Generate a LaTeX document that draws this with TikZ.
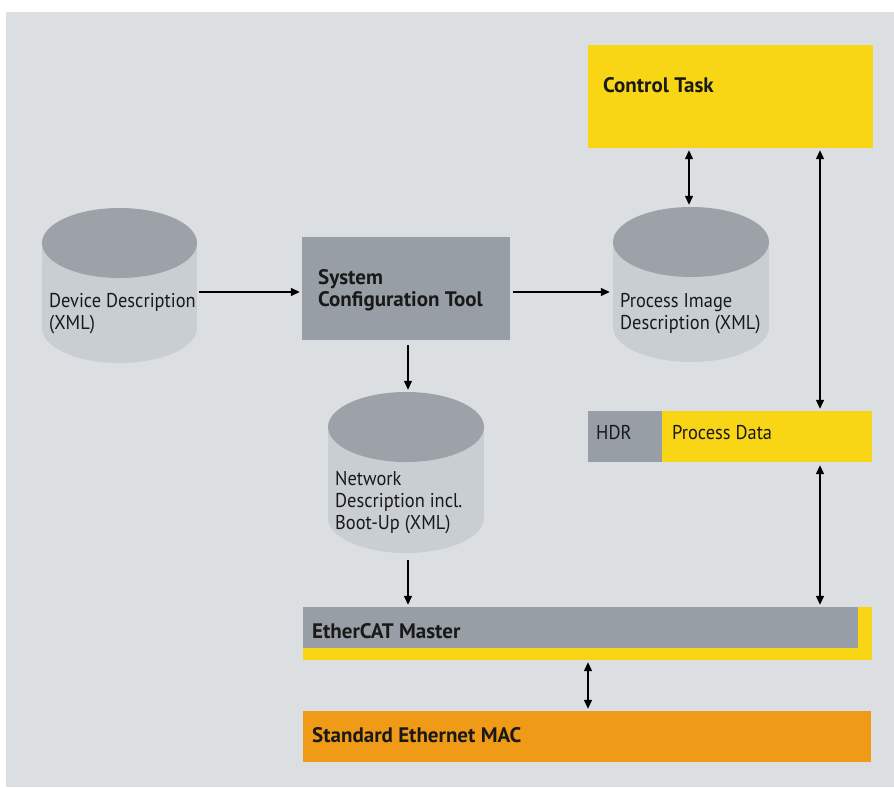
\documentclass[tikz,border=0pt]{standalone}
\usepackage{fontspec}
\setmainfont{PT Sans}[FakeStretch=0.92,BoldFeatures={FakeStretch=1.0}]
\usetikzlibrary{arrows.meta,calc}
\definecolor{bgc}{HTML}{DCDFE2}
\definecolor{boxgray}{HTML}{989EA5}
\definecolor{cyltop}{HTML}{9DA2A8}
\definecolor{cylbody}{HTML}{C9CED3}
\definecolor{yel}{HTML}{F8D616}
\definecolor{ora}{HTML}{F09B17}
\tikzset{
  arr/.style={line width=1.3pt,-{Triangle[length=9pt,width=8pt]}},
  darr/.style={line width=1.3pt,{Triangle[length=9pt,width=8pt]}-{Triangle[length=9pt,width=8pt]}},
  lbl/.style={anchor=west,align=left,inner sep=0pt,font=\fontsize{20pt}{22pt}\selectfont,text=black!90},
  blbl/.style={lbl,font=\fontsize{21pt}{22pt}\selectfont\bfseries},
  area/.style={inner sep=0pt,draw=none},
}
\newcommand{\mycyl}[5]{% name, x1, x2, top, bottom
  \pgfmathsetmacro{\cx}{(#2+#3)/2}
  \pgfmathsetmacro{\rx}{(#3-#2)/2}
  \fill[cylbody] (#2,#4+35) rectangle (#3,#5-35);
  \fill[cylbody] (\cx,#5-35) ellipse [x radius=\rx, y radius=35];
  \fill[cyltop] (\cx,#4+35) ellipse [x radius=\rx, y radius=35];
  \node[area,minimum width=#3-#2,minimum height=#5-#4] (#1) at (\cx,{(#4+#5)/2}) {};
}
\begin{document}
\begin{tikzpicture}[x=1pt,y=-1pt]
\useasboundingbox (0,0) rectangle (894,787);
\fill[bgc] (6,12) rectangle (894,787);

% Control task
\fill[yel] (588,45) rectangle (873,148);
\node[area,minimum width=285,minimum height=103] (ctrl) at (730.5,96.5) {};
\node[blbl] (ctrlt) at (603,85) {Control Task};

% System configuration tool
\fill[boxgray] (302,237) rectangle (510,340);
\node[area,minimum width=208,minimum height=103] (sct) at (406,288.5) {};
\node[blbl] (sctt) at (318,290) {System\\Configuration Tool};

% cylinders
\mycyl{dev}{42}{197}{208}{363}
\node[lbl] (devt) at (49,314) {Device Description\\(XML)};
\mycyl{pimg}{613}{769}{207}{362}
\node[lbl] (pimgt) at (620,314) {Process Image\\Description (XML)};
\mycyl{net}{328}{484}{392}{553}
\node[lbl] (nett) at (335,502.5) {Network\\Description incl.\\Boot-Up (XML)};

% HDR / Process Data
\fill[boxgray] (588,411) rectangle (662,462);
\fill[yel] (662,411) rectangle (872,462);
\node[area,minimum width=284,minimum height=51] (pdata) at (730,436.5) {};
\node[lbl] (hdr) at (596,433) {HDR};
\node[lbl] (pdt) at (672,433) {Process Data};

% EtherCAT master
\fill[yel] (303,607) rectangle (872,660);
\fill[boxgray] (303,607) rectangle (858,648);
\node[area,minimum width=569,minimum height=53] (master) at (587.5,633.5) {};
\node[blbl] (mastert) at (312,631) {EtherCAT Master};

% MAC
\fill[ora] (303,711) rectangle (871,762);
\node[area,minimum width=568,minimum height=51] (mac) at (587,736.5) {};
\node[blbl] (mact) at (312,735) {Standard Ethernet MAC};

% connectors
\draw[arr] ($(dev.east)+(2,6.5)$) -- ($(sct.west)+(-2,3.5)$);
\draw[arr] ($(sct.east)+(3,3.5)$) -- ($(pimg.west)+(-3,7.5)$);
\draw[darr] ($(ctrl.south)+(-41.5,2)$) -- ($(pimg.north)+(-2,-2)$);
\draw[darr] ($(ctrl.south)+(89.5,2)$) -- ($(pdata.north)+(90,-2)$);
\draw[darr] ($(pdata.south)+(90,3)$) -- ($(master.north)+(232.5,-2)$);
\draw[arr] ($(sct.south)+(2,5)$) -- ($(net.north)+(2,-2)$);
\draw[arr] ($(net.south)+(2,7)$) -- ($(master.north)+(-179.5,-2)$);
\draw[darr] ($(master.south)+(0.5,2)$) -- ($(mac.north)+(1,-2)$);
\end{tikzpicture}
\end{document}
